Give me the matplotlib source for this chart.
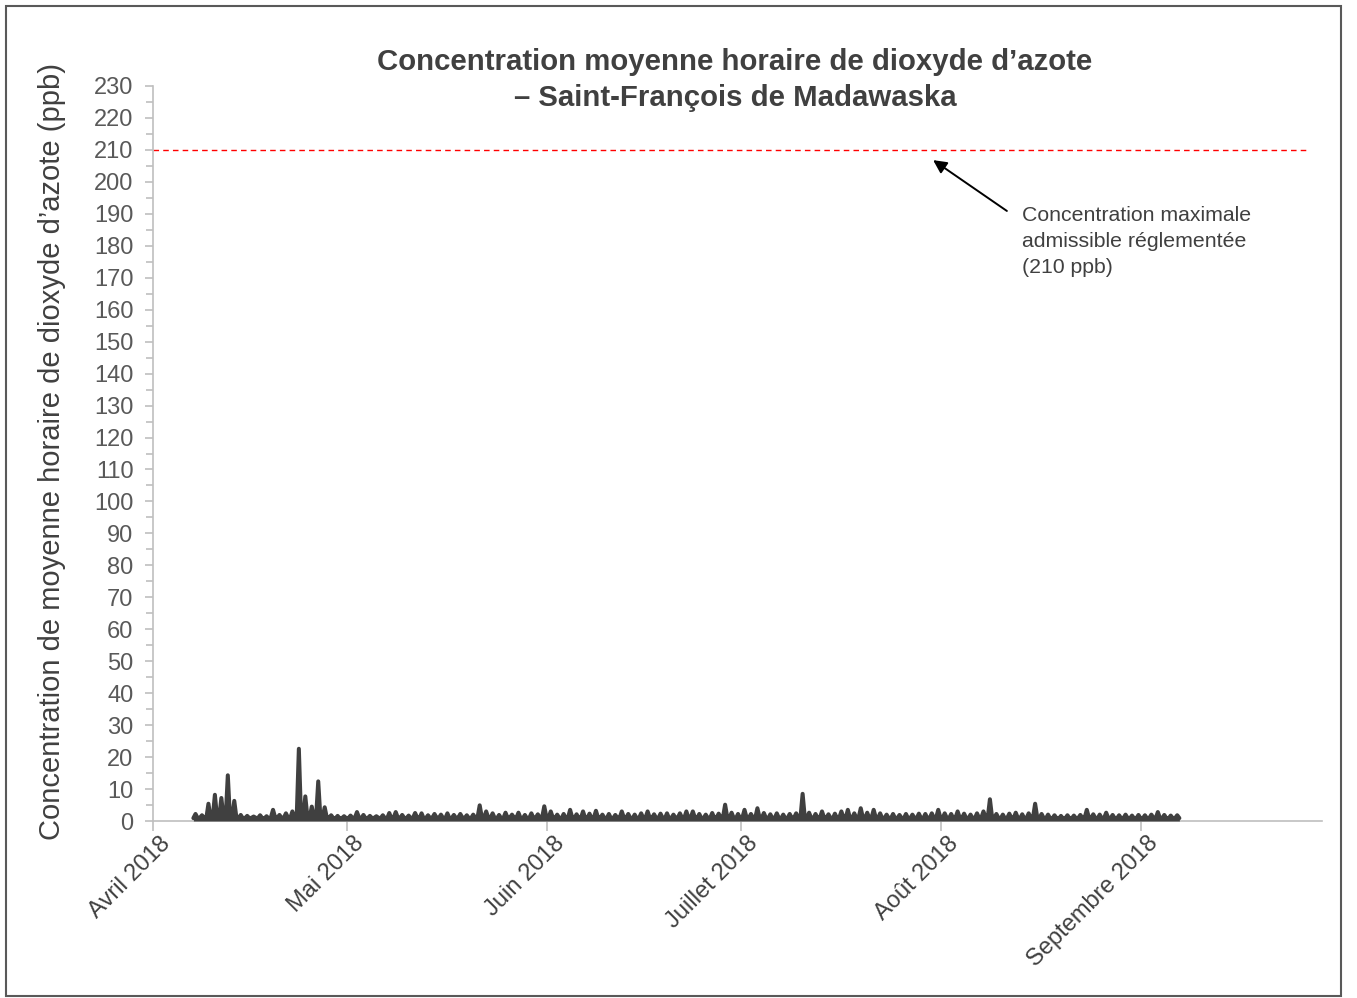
import matplotlib
matplotlib.use("Agg")
import matplotlib.pyplot as plt
from matplotlib.patches import Rectangle
from matplotlib.transforms import ScaledTranslation
import pandas as pd

plt.rcParams["font.family"] = ["Liberation Sans", "DejaVu Sans"]

# maximum et minimum horaire de chaque jour (ppb), du 7 avril au 6 septembre 2018
max_avril = [2.2, 1.8, 5.4, 8.2, 7.2, 14.3, 6.3, 1.9, 1.6, 1.4, 1.8, 1.5, 3.5, 1.9,
             2.4, 3.0, 22.6, 7.7, 4.5, 12.4, 4.3, 1.8, 1.6, 1.5]
max_mai = [1.7, 2.8, 1.9, 1.6, 1.5, 1.8, 2.5, 2.8, 1.9, 1.7, 2.5, 2.4, 1.8, 2.2, 2.0,
           2.4, 1.9, 2.2, 1.8, 2.0, 4.9, 3.0, 2.4, 1.9, 2.6, 2.0, 2.6, 1.9, 2.4, 2.1, 4.6]
max_juin = [3.0, 2.0, 2.2, 3.5, 2.1, 3.0, 2.3, 3.2, 2.0, 2.2, 1.9, 3.0, 2.2, 2.0, 2.4,
            3.0, 2.1, 2.3, 2.4, 2.0, 2.4, 3.0, 3.0, 2.2, 2.0, 2.5, 2.3, 5.1, 2.6, 2.2]
max_juillet = [3.5, 2.2, 4.0, 2.5, 2.1, 2.4, 2.0, 2.2, 2.4, 8.5, 2.6, 2.2, 3.0, 2.1, 2.3,
               3.0, 3.5, 2.4, 4.0, 2.6, 3.5, 2.4, 2.0, 2.2, 1.9, 2.2, 2.0, 2.3, 2.2, 2.4, 3.5]
max_aout = [2.4, 2.2, 3.0, 2.3, 2.0, 2.4, 3.0, 6.8, 2.2, 2.0, 2.3, 2.6, 2.1, 2.4, 5.4,
            2.2, 2.0, 1.8, 1.6, 1.8, 1.7, 1.9, 3.5, 2.1, 2.0, 2.6, 1.9, 1.8, 2.0, 1.7, 1.9]
max_sept = [1.8, 2.0, 2.8, 1.9, 1.7, 1.8]

min_avril = [0.9, 1.0, 0.8, 1.1, 1.0, 0.9, 1.0, 0.8, 0.9, 1.0, 0.9, 0.8, 1.1, 0.9,
             1.0, 0.9, 1.2, 1.0, 0.9, 1.1, 1.0, 0.9, 0.8, 0.9]
min_mai = [0.9, 1.0, 0.8, 0.9, 1.0, 0.9, 0.8, 1.0, 0.9, 0.9, 1.0, 0.8, 0.9, 1.0, 0.9,
           0.8, 0.9, 1.0, 0.9, 0.9, 1.1, 1.0, 0.9, 0.8, 0.9, 1.0, 0.9, 0.8, 0.9, 1.0, 1.1]
min_juin = [1.0, 0.9, 0.8, 1.0, 0.9, 0.9, 0.8, 1.0, 0.9, 0.8, 0.9, 1.0, 0.9, 0.8, 0.9,
            1.0, 0.9, 0.9, 0.8, 0.9, 1.0, 0.9, 1.0, 0.8, 0.9, 0.9, 1.0, 1.1, 0.9, 0.8]
min_juillet = [1.0, 0.9, 1.0, 0.9, 0.8, 0.9, 0.8, 0.9, 1.0, 1.1, 0.9, 0.8, 1.0, 0.9, 0.8,
               1.0, 0.9, 0.9, 1.0, 0.9, 1.0, 0.8, 0.9, 0.8, 0.9, 0.8, 0.9, 0.9, 0.8, 0.9, 1.0]
min_aout = [0.9, 0.8, 1.0, 0.9, 0.8, 0.9, 1.0, 1.1, 0.9, 0.8, 0.9, 0.9, 0.8, 0.9, 1.0,
            0.9, 0.8, 0.8, 0.7, 0.8, 0.8, 0.9, 1.0, 0.9, 0.8, 0.9, 0.8, 0.8, 0.9, 0.8, 0.8]
min_sept = [0.8, 0.9, 0.9, 0.8, 0.8, 0.9]

norme = 210  # concentration maximale admissible (ppb)
mois_labels = ["Avril 2018", "Mai 2018", "Juin 2018", "Juillet 2018", "Août 2018",
               "Septembre 2018"]

jours = pd.date_range("2018-04-07", "2018-09-06", freq="D")
maxima = max_avril + max_mai + max_juin + max_juillet + max_aout + max_sept
minima = min_avril + min_mai + min_juin + min_juillet + min_aout + min_sept

# chaque journée : creux le matin, pointe l'après-midi, creux le soir
temps = []
valeurs = []
for j, bas, haut in zip(jours, minima, maxima):
    temps += [j + pd.Timedelta(hours=6), j + pd.Timedelta(hours=14),
              j + pd.Timedelta(hours=22)]
    valeurs += [bas, haut, bas]

gris = "#404040"
gris_txt = "#595959"
gris_axe = "#BFBFBF"

fig = plt.figure(figsize=(13.57, 9.98), dpi=100)
ax = fig.add_axes([153 / 1357, 1 - 821 / 998, 1169 / 1357, 735 / 998])

ax.fill_between(temps, 0, valeurs, color=gris, lw=0, zorder=3)
ax.plot(temps, valeurs, color=gris, lw=2.9, solid_joinstyle="round",
        solid_capstyle="round", zorder=3)
ax.hlines(norme, pd.Timestamp("2018-04-01"), pd.Timestamp("2018-09-27"),
          colors="#FF0000", lw=1.0, linestyles=(0, (4, 3)), zorder=2)

ax.set_xlim(pd.Timestamp("2018-04-01"), pd.Timestamp("2018-09-29"))
ax.set_ylim(0, 230)
ax.set_yticks(range(0, 231, 10))
ax.set_yticks(range(5, 230, 10), minor=True)

debuts_mois = pd.date_range("2018-04-01", "2018-09-01", freq="MS")
ax.set_xticks(debuts_mois)
ax.set_xticklabels(mois_labels, rotation=45, ha="right", va="top",
                   rotation_mode="anchor")

for s in ["top", "right"]:
    ax.spines[s].set_visible(False)
for s in ["left", "bottom"]:
    ax.spines[s].set_color(gris_axe)
    ax.spines[s].set_linewidth(1.2)

ax.tick_params(axis="y", which="major", length=6, width=1.2, color=gris_axe,
               labelsize=17, labelcolor=gris_txt, pad=8)
ax.tick_params(axis="y", which="minor", length=5, width=1.2, color=gris_axe)
ax.tick_params(axis="x", which="major", length=7, width=1.2, color=gris_axe,
               labelsize=17, labelcolor=gris, pad=4)

# petit décalage des étiquettes de mois (après tick_params, qui le réinitialise)
decalage = ScaledTranslation(6 / 100, 4 / 100, fig.dpi_scale_trans)
for tick in ax.xaxis.get_major_ticks():
    tick.label1.set_transform(tick.label1.get_transform() + decalage)

fig.text(52 / 1357, 1 - 451 / 998,
         "Concentration de moyenne horaire de dioxyde d’azote (ppb)",
         rotation=90, ha="center", va="center", fontsize=21, color=gris)

fig.text(735 / 1357, 1 - 80 / 998,
         "Concentration moyenne horaire de dioxyde d’azote\n– Saint-François de Madawaska",
         ha="center", va="center", fontsize=21.2, fontweight="bold", color=gris,
         linespacing=1.36)

ax.annotate("", xy=(pd.Timestamp("2018-07-30 19:00"), 206.8),
            xytext=(pd.Timestamp("2018-08-11 05:00"), 190.9),
            arrowprops=dict(arrowstyle="-|>", color="black", lw=1.4,
                            mutation_scale=20, shrinkA=0, shrinkB=0))
fig.text(1022 / 1357, 1 - 206 / 998,
         "Concentration maximale\nadmissible réglementée\n(210 ppb)",
         ha="left", va="top", fontsize=15.3, color=gris, linespacing=1.47)

# cadre autour de la figure
fig.patches.append(Rectangle((6 / 1357, 2 / 998), 1335 / 1357, 990 / 998,
                             transform=fig.transFigure, fill=False,
                             edgecolor="#595959", lw=1.5))

fig.savefig("out.png", dpi=100)
